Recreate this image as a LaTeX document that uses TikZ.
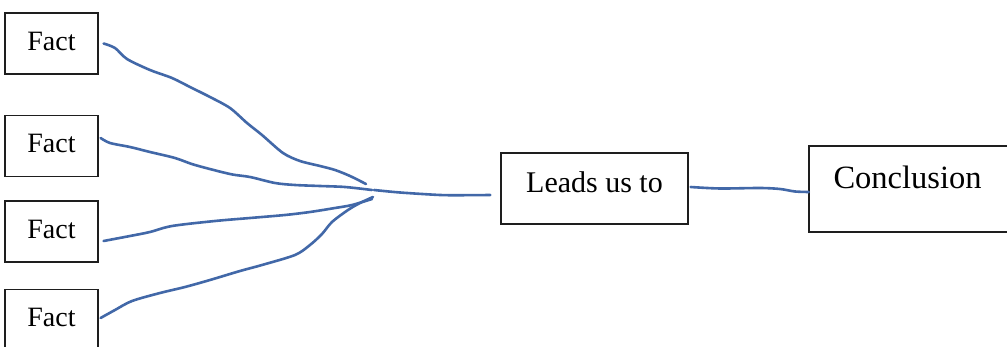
\documentclass[tikz,border=0pt]{standalone}
\usepackage{fontspec}
\setmainfont{Liberation Serif}
\definecolor{wireblue}{RGB}{66,104,168}
\definecolor{boxline}{RGB}{30,30,30}
\begin{document}
\begin{tikzpicture}[x=1pt,y=-1pt,
  factbox/.style={draw=boxline,line width=1.2pt,minimum width=93pt,minimum height=61pt,inner sep=0pt,font=\fontsize{28}{30}\selectfont,text depth=5pt},
  wire/.style={draw=wireblue,line width=2.6pt,line cap=round,line join=round}]
\useasboundingbox (0,0) rectangle (1007,347);
\fill[white] (0,0) rectangle (1007,347);
\node[factbox] (f1) at (51.5,43.5) {Fact};
\node[factbox] (f2) at (51.5,146) {Fact};
\node[factbox] (f3) at (51.5,231.5) {Fact};
\node[factbox] (f4) at (51.5,320) {Fact};
\node[draw=boxline,line width=1.2pt,minimum width=187pt,minimum height=71pt,inner sep=0pt,
  font=\fontsize{30}{34}\selectfont,text depth=13pt] (lead) at (594.5,188.5) {Leads us to};
\node[draw=boxline,line width=1.2pt,minimum width=200pt,minimum height=86pt,inner sep=0pt,
  font=\fontsize{32.5}{36}\selectfont,text width=151pt,align=left,text depth=24pt] (concl) at (909,189) {Conclusion};
% hub points
\coordinate (h1) at (366,184);
\coordinate (h2) at (372,190);
\coordinate (h3) at (372,199);
\coordinate (h4) at (373,197);
\coordinate (h0) at (374,190);
\coordinate (s1) at ([xshift=5pt]f1.east);
\coordinate (s2) at ([xshift=2pt,yshift=8pt]f2.east);
\coordinate (s3) at ([xshift=5pt,yshift=-9.5pt]f3.east);
\coordinate (s4) at ([xshift=2pt,yshift=2pt]f4.east);
\coordinate (e0) at ([xshift=-10pt,yshift=-6.5pt]lead.west);
\coordinate (s5) at ([xshift=2pt,yshift=1.5pt]lead.east);
\coordinate (e5) at ([xshift=0.5pt,yshift=-3pt]concl.west);
\draw[wire] plot[smooth,tension=0.5] coordinates {(s1) (115,48) (127,59) (150,70) (172,78) (190,87) (210,97) (230,108) (247,123) (262,135) (283,153) (300,161) (320,166) (335,170) (350,176) (h1)};
\draw[wire] plot[smooth,tension=0.5] coordinates {(s2) (110,143) (130,147) (150,152) (175,158) (195,165) (230,174) (250,177) (275,183) (295,185) (320,186) (345,187) (h2)};
\draw[wire] plot[smooth,tension=0.5] coordinates {(s3) (130,236) (150,232) (172,226) (215,221) (250,218) (285,215) (310,212) (335,208) (352,205) (h3)};
\draw[wire] plot[smooth,tension=0.5] coordinates {(s4) (115,310) (132,301) (160,293) (185,287) (210,280) (240,271) (262,265) (295,255) (310,245) (322,234) (332,222) (348,210) (360,203) (h4)};
\draw[wire] plot[smooth,tension=0.5] coordinates {(h0) (400,192.5) (440,195) (465,195.2) (e0)};
\draw[wire] plot[smooth,tension=0.5] coordinates {(s5) (720,188.5) (760,188) (780,189) (795,191.5) (e5)};
\end{tikzpicture}
\end{document}
